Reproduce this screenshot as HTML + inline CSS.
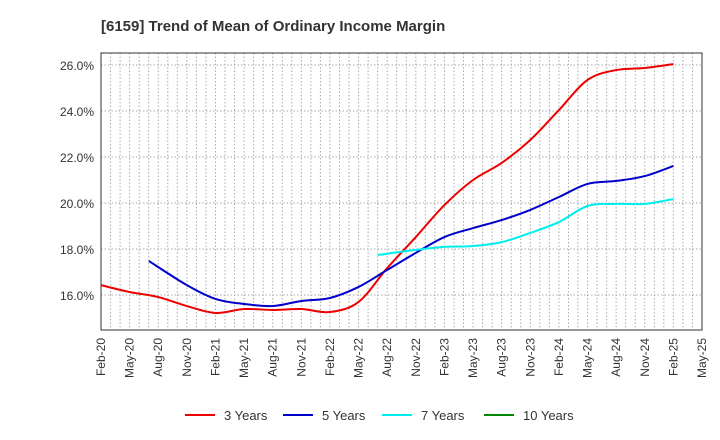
<!DOCTYPE html>
<html><head><meta charset="utf-8"><style>
body{margin:0;background:#fff;font-family:"Liberation Sans",sans-serif}
</style></head><body>
<svg id="c" width="720" height="440" style="display:block">
<text x="101" y="31" font-size="15" font-weight="bold" fill="#333">[6159]  Trend of Mean of Ordinary Income Margin</text>
</svg>
<script>
const xLabels=["Feb-20","May-20","Aug-20","Nov-20","Feb-21","May-21","Aug-21","Nov-21","Feb-22","May-22","Aug-22","Nov-22","Feb-23","May-23","Aug-23","Nov-23","Feb-24","May-24","Aug-24","Nov-24","Feb-25","May-25"];
const yTicks=[16,18,20,22,24,26];
const s3x=[0,1,2,3,4,5,6,7,8,9,10,11,12,13,14,15,16,17,18,19,20];
const s3y=[16.43,16.13,15.91,15.52,15.22,15.39,15.35,15.39,15.26,15.7,17.17,18.52,19.91,21.0,21.74,22.74,24.04,25.35,25.78,25.87,26.04];
const s5x=[1.67,3,4,5,6,7,8,9,10,11,12,13,14,15,16,17,18,19,20];
const s5y=[17.48,16.43,15.83,15.61,15.52,15.74,15.87,16.35,17.09,17.83,18.52,18.91,19.26,19.7,20.26,20.83,20.96,21.17,21.61];
const s7x=[9.67,11,12,13,14,15,16,17,18,19,20];
const s7y=[17.74,17.96,18.09,18.13,18.3,18.7,19.17,19.87,19.96,19.96,20.17];
const L=101,R=702,T=53,B=330;
const X=q=>L+(R-L)*q/21;
const Y=v=>295-(v-16)*23;
const svg=document.getElementById('c');const NS='http://www.w3.org/2000/svg';
function el(t,a,p){const e=document.createElementNS(NS,t);for(const k in a)e.setAttribute(k,a[k]);(p||svg).appendChild(e);return e;}
const g=el('g',{});


for(let m=1;m<63;m++){const x=X(m/3);el('line',{x1:x,x2:x,y1:T,y2:B,stroke:'#aaa','stroke-dasharray':'1.5,2','stroke-width':1},g);}
yTicks.forEach(v=>{el('line',{x1:L,x2:R,y1:Y(v),y2:Y(v),stroke:'#aaa','stroke-dasharray':'1.5,2'},g);
const t=el('text',{x:L-7,y:Y(v)+5,'text-anchor':'end','font-size':12,fill:'#333'});t.textContent=v.toFixed(1)+'%';

});
xLabels.forEach((s,i)=>{const x=X(i)+4,y=B+8;const t=el('text',{x:x,y:y,'text-anchor':'end','font-size':12,fill:'#333',transform:`rotate(-90 ${x} ${y})`});t.textContent=s;

});
const fr=el('rect',{x:L,y:T,width:R-L,height:B-T,fill:'none',stroke:'#333'});


function path(xs,ys){const p=xs.map((q,i)=>[X(q),Y(ys[i])]);let d=`M${p[0][0]},${p[0][1]}`;
for(let i=0;i<p.length-1;i++){const p0=p[i-1]||p[i],p1=p[i],p2=p[i+1],p3=p[i+2]||p2;
d+=` C${p1[0]+(p2[0]-p0[0])/6},${p1[1]+(p2[1]-p0[1])/6} ${p2[0]-(p3[0]-p1[0])/6},${p2[1]-(p3[1]-p1[1])/6} ${p2[0]},${p2[1]}`;}return d;}
[[s3x,s3y,'#e00','series-3-years'],[s5x,s5y,'#00c','series-5-years'],[s7x,s7y,'#0ee','series-7-years']].forEach(s=>{
const p=el('path',{d:path(s[0],s[1]),fill:'none',stroke:s[2],'stroke-width':2});

});
[['3 Years','#e00',185],['5 Years','#00c',283],['7 Years','#0ee',382],['10 Years','#080',484]].forEach(l=>{
const gg=el('g',{});


el('line',{x1:l[2],x2:l[2]+30,y1:415,y2:415,stroke:l[1],'stroke-width':2},gg);
const t=el('text',{x:l[2]+39,y:420,'font-size':13,fill:'#333'},gg);t.textContent=l[0];});
</script>
</body></html>
